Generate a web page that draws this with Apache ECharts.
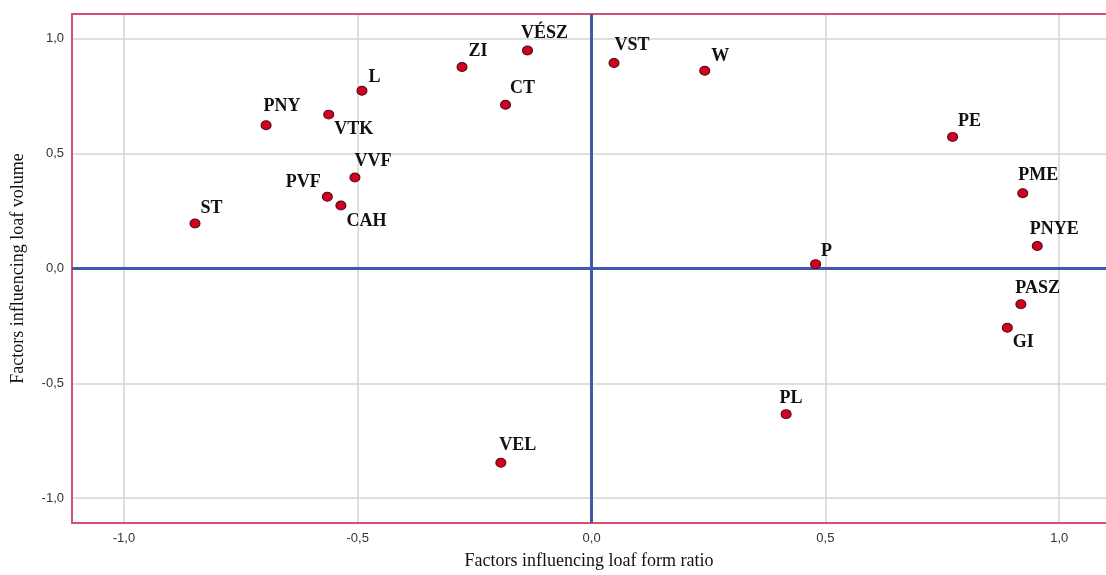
<!DOCTYPE html>
<html>
<head>
<meta charset="utf-8">
<script src="https://cdn.jsdelivr.net/npm/echarts@6/dist/echarts.min.js"></script>
<style>
  html, body { margin: 0; padding: 0; background: #fff; overflow: hidden; }
  #chart { width: 1106px; height: 575px; }
</style>
</head>
<body>
<div id="chart"></div>
<script>
// Factor loadings of bread-quality traits on two factors
const names = ['ST', 'PNY', 'VTK', 'L', 'PVF', 'CAH', 'VVF', 'ZI', 'VÉSZ', 'CT', 'VST', 'W',
               'PE', 'PME', 'PNYE', 'P', 'PASZ', 'GI', 'PL', 'VEL'];
const formRatio = [-0.848, -0.696, -0.562, -0.491, -0.565, -0.536, -0.506, -0.277, -0.137, -0.184, 0.048, 0.242,
                   0.772, 0.922, 0.953, 0.479, 0.918, 0.889, 0.416, -0.194];
const loafVolume = [0.196, 0.624, 0.670, 0.774, 0.312, 0.274, 0.396, 0.877, 0.949, 0.713, 0.895, 0.861,
                    0.573, 0.328, 0.098, 0.019, -0.156, -0.258, -0.634, -0.846];
const tickValues = [-1.0, -0.5, 0.0, 0.5, 1.0];

// Label placement around each marker: [dx, dy, align] from the marker centre
const labelNudge = {
  'ST': [6, -15, 'left'], 'PNY': [-2, -18, 'left'], 'VTK': [6, 15, 'left'], 'L': [7, -13, 'left'],
  'PVF': [-6, -14, 'right'], 'CAH': [6, 16, 'left'], 'VVF': [0, -16, 'left'], 'ZI': [7, -15, 'left'],
  'VÉSZ': [-6, -17, 'left'], 'CT': [5, -16, 'left'], 'VST': [1, -17, 'left'], 'W': [7, -14, 'left'],
  'PE': [6, -15, 'left'], 'PME': [-4, -17, 'left'], 'PNYE': [-7, -16, 'left'], 'P': [6, -12, 'left'],
  'PASZ': [-5, -16, 'left'], 'GI': [6, 15, 'left'], 'PL': [-6, -15, 'left'], 'VEL': [-1, -17, 'left']
};

const symW = 10, symH = 9;

const points = names.map((n, i) => {
  const nd = labelNudge[n] || [6, -15, 'left'];
  return {
    name: n,
    value: [formRatio[i], loafVolume[i]],
    // label position is measured from the symbol's top-left corner
    label: { position: [symW / 2 + nd[0], symH / 2 + nd[1]], align: nd[2], verticalAlign: 'middle' }
  };
});

const isTick = v => tickValues.some(t => Math.abs(t - v) < 1e-6);
const fmt = v => isTick(v) ? v.toFixed(1).replace('.', ',') : '';

const frameColor = '#d6506f';
const gridColor = '#d4d4d4';
const refColor = '#3e5aa8';

const xMin = -1.111, xMax = 1.100;
const yMin = -1.108, yMax = 1.108;

const frameLine = { show: true, onZero: false, lineStyle: { color: frameColor, width: 2 } };

const chart = echarts.init(document.getElementById('chart'), null, { renderer: 'canvas' });
chart.setOption({
  animation: false,
  backgroundColor: '#ffffff',
  grid: { left: 72, top: 14, width: 1034, height: 513 },
  xAxis: [{
    type: 'value',
    position: 'bottom',
    min: xMin, max: xMax,
    splitNumber: 4,
    name: 'Factors influencing loaf form ratio',
    nameLocation: 'middle',
    nameGap: 29,
    nameTextStyle: { fontFamily: 'Liberation Serif', fontSize: 18, color: '#111' },
    axisLine: frameLine,
    axisTick: { show: false },
    axisLabel: { formatter: fmt, fontFamily: 'Liberation Sans', fontSize: 13, color: '#333', margin: 9,
                 showMinLabel: false, showMaxLabel: false },
    splitLine: { show: true, showMinLine: false, showMaxLine: false,
                 lineStyle: { color: gridColor, width: 1.5 } }
  }, {
    // top edge of the frame
    type: 'value',
    position: 'top',
    min: xMin, max: xMax,
    axisLine: frameLine,
    axisTick: { show: false },
    axisLabel: { show: false },
    splitLine: { show: false }
  }],
  yAxis: {
    type: 'value',
    min: yMin, max: yMax,
    splitNumber: 4,
    name: 'Factors influencing loaf volume',
    nameLocation: 'middle',
    nameGap: 45,
    nameTextStyle: { fontFamily: 'Liberation Serif', fontSize: 18, color: '#111' },
    axisLine: frameLine,
    axisTick: { show: false },
    axisLabel: { formatter: fmt, fontFamily: 'Liberation Sans', fontSize: 13, color: '#333', margin: 8,
                 showMinLabel: false, showMaxLabel: false },
    splitLine: { show: true, showMinLine: false, showMaxLine: false,
                 lineStyle: { color: gridColor, width: 1.5 } }
  },
  series: [{
    type: 'scatter',
    xAxisIndex: 0,
    data: points,
    symbol: 'circle',
    symbolSize: [symW, symH],
    itemStyle: { color: '#d0021f', borderColor: '#4a0a12', borderWidth: 1, opacity: 1 },
    label: {
      show: true,
      formatter: p => p.name,
      fontFamily: 'Liberation Serif',
      fontWeight: 'bold',
      fontSize: 18,
      color: '#111'
    },
    labelLayout: { hideOverlap: false },
    markLine: {
      silent: true,
      symbol: 'none',
      label: { show: false },
      lineStyle: { color: refColor, width: 3, type: 'solid' },
      data: [{ xAxis: 0 }, { yAxis: 0 }],
      z: 1
    },
    z: 3
  }]
});
</script>
</body>
</html>
